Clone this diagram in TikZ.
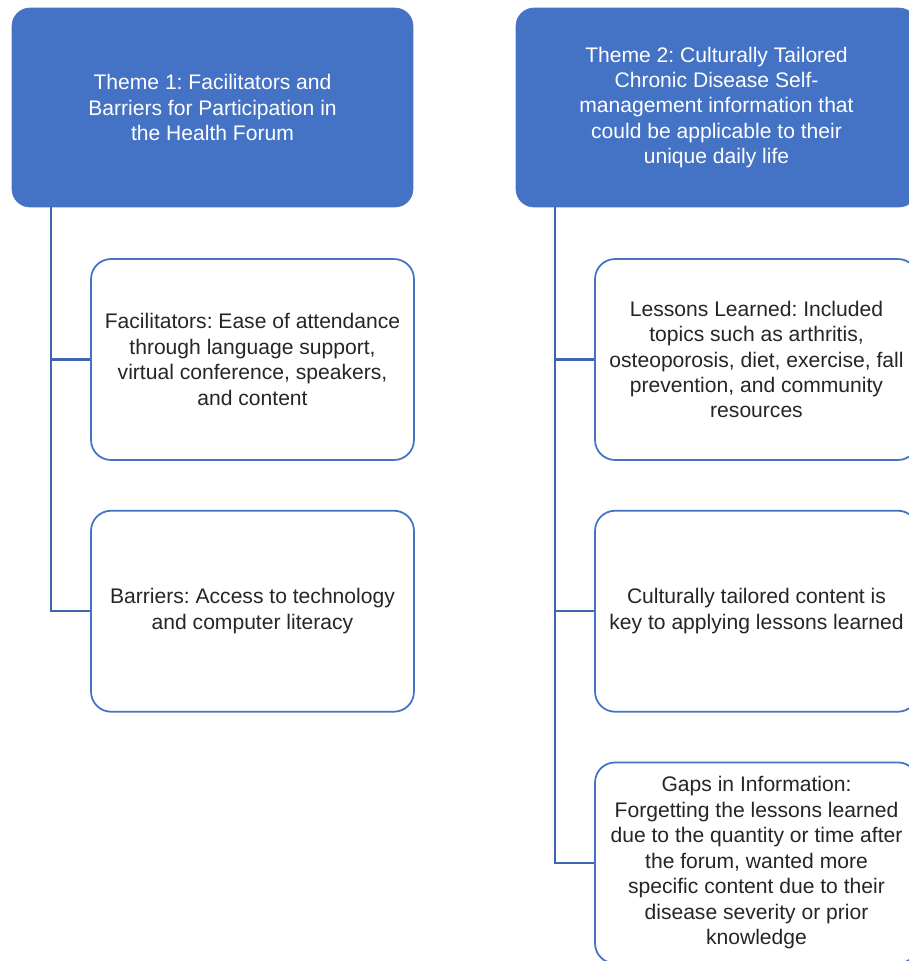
\documentclass[tikz,border=0pt]{standalone}
\usepackage{fontspec}
\setmainfont{Liberation Sans}
\usepackage{xcolor}
\usetikzlibrary{positioning}
\definecolor{themeblue}{HTML}{4472C4}
\definecolor{lineblue}{HTML}{3F65AE}
\definecolor{textgray}{HTML}{262626}
\frenchspacing

\begin{document}
\begin{tikzpicture}[
  x=0.02cm, y=-0.02cm,
  node distance=0.98cm,
  theme/.style={draw=themeblue, fill=themeblue, rounded corners=0.36cm, align=center,
    text=white, minimum width=8.02cm, minimum height=3.98cm,
    font=\fontsize{12}{14.5}\selectfont},
  item/.style={draw=themeblue, line width=1pt, fill=white, rounded corners=0.4cm,
    align=center, text=textgray, minimum width=6.46cm, minimum height=4.02cm,
    font=\fontsize{12}{14.5}\selectfont},
  link/.style={draw=lineblue, line width=1.2pt}
]
\clip (0,0) rectangle (909,961);
\fill[white] (0,0) rectangle (909,961);
% theme 1
\node[theme] (theme1) at (212.5,107.5) {Theme 1: Facilitators and\\Barriers for Participation in\\the Health Forum};
\node[item] (facil) at (252.5,359.5) {Facilitators: Ease of attendance\\through language support,\\virtual conference, speakers,\\and content};
\node[item, below=of facil] (barr) {Barriers: Access to technology\\and computer literacy};
% theme 2
\node[theme] (theme2) at (716.5,107.5) {Theme 2: Culturally Tailored\\Chronic Disease Self-\\management information that\\could be applicable to their\\unique daily life};
\node[item] (lessons) at (756.5,359.5) {Lessons Learned: Included\\topics such as arthritis,\\osteoporosis, diet, exercise, fall\\prevention, and community\\resources};
\node[item, below=of lessons] (tailored) {Culturally tailored content is\\key to applying lessons learned};
\node[item, below=of tailored] (gaps) {Gaps in Information:\\Forgetting the lessons learned\\due to the quantity or time after\\the forum, wanted more\\specific content due to their\\disease severity or prior\\knowledge};
% connectors
\coordinate (spine1) at ([xshift=0.78cm]theme1.south west);
\coordinate (spine2) at ([xshift=0.78cm]theme2.south west);
\draw[link] (spine1) |- (facil.west);
\draw[link] (spine1) |- (barr.west);
\draw[link] (spine2) |- (lessons.west);
\draw[link] (spine2) |- (tailored.west);
\draw[link] (spine2) |- (gaps.west);
\end{tikzpicture}
\end{document}
